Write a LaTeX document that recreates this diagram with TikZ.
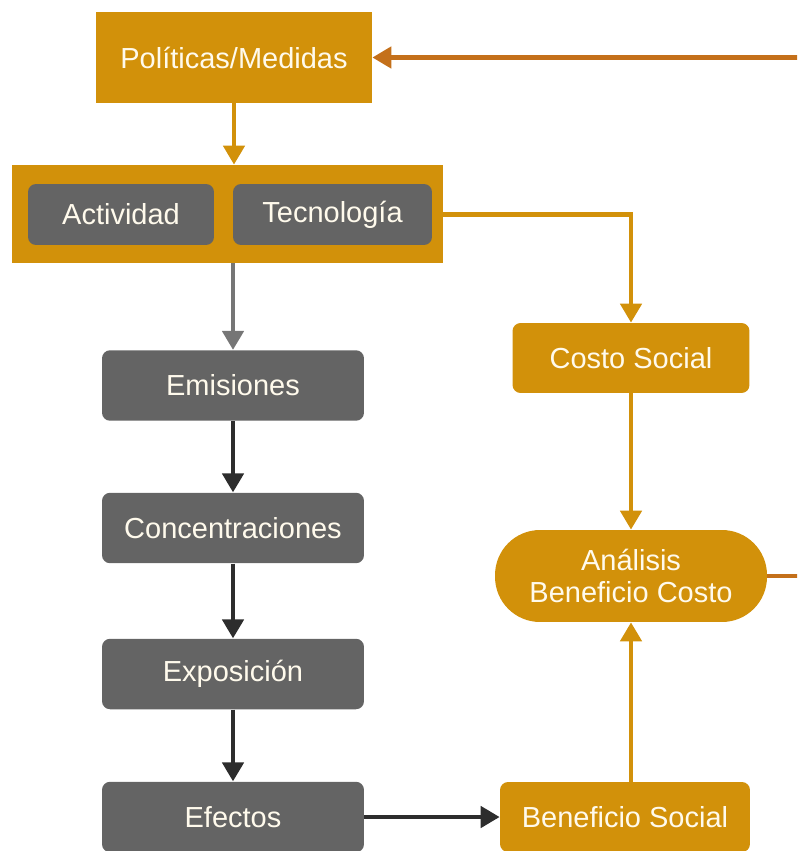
\documentclass[tikz,border=0pt]{standalone}
\usepackage{fontspec}
\setmainfont{Liberation Sans}
\usetikzlibrary{arrows.meta}
\definecolor{oro}{RGB}{210,145,10}
\definecolor{gris}{RGB}{100,100,100}
\definecolor{grisclaro}{RGB}{118,118,118}
\definecolor{oscuro}{RGB}{45,45,45}
\definecolor{naranja}{RGB}{196,112,26}
\definecolor{texto}{RGB}{255,250,236}

\begin{document}
\begin{tikzpicture}[x=0.02cm, y=-0.02cm,
    caja/.style={inner sep=0pt, text=texto, font=\fontsize{16.5}{18.7}\selectfont},
    cajaoro/.style={caja, fill=oro},
    cajagris/.style={caja, fill=gris, rounded corners=0.16cm, minimum width=5.24cm, minimum height=1.41cm},
    flecha/.style={line width=2.6pt, -{Triangle[length=0.38cm, width=0.42cm]}}]
    \useasboundingbox (0,0) rectangle (797,851);
    \clip (0,0) rectangle (797,851);

    % Políticas y el bloque Actividad/Tecnología
    \node[cajaoro, minimum width=5.52cm, minimum height=1.82cm] (Politicas) at (234,57.5) {Políticas/Medidas};
    \node[cajaoro, minimum width=8.62cm, minimum height=1.96cm] (Bloque) at (227.5,214) {};
    \node[cajagris, minimum width=3.72cm, minimum height=1.22cm] (Actividad) at (121,214.5) {Actividad};
    \node[cajagris, minimum width=3.98cm, minimum height=1.22cm] (Tecnologia) at (332.5,214.5) {Tecnología};

    % Cadena de impactos
    \node[cajagris] (Emisiones) at (233,385.5) {Emisiones};
    \node[cajagris] (Concentraciones) at (233,528) {Concentraciones};
    \node[cajagris] (Exposicion) at (233,674) {Exposición};
    \node[cajagris] (Efectos) at (233,817) {Efectos};

    % Costos y beneficios
    \node[cajaoro, rounded corners=0.16cm, minimum width=4.74cm, minimum height=1.4cm] (CostoSocial) at (631,358) {Costo Social};
    \node[cajaoro, rounded corners=0.9cm, minimum width=5.44cm, minimum height=1.84cm, align=center] (Analisis) at (631,576) {Análisis\\Beneficio Costo};
    \node[cajaoro, rounded corners=0.16cm, minimum width=5cm, minimum height=1.4cm] (BeneficioSocial) at (625,817) {Beneficio Social};

    % Flechas
    \draw[flecha, oro] (Politicas.south) -- (Politicas.south |- Bloque.north);
    \draw[flecha, grisclaro] (Emisiones.north |- Bloque.south) -- (Emisiones.north);
    \draw[flecha, oscuro] (Emisiones) -- (Concentraciones);
    \draw[flecha, oscuro] (Concentraciones) -- (Exposicion);
    \draw[flecha, oscuro] (Exposicion) -- (Efectos);
    \draw[flecha, oscuro] (Efectos) -- (BeneficioSocial);
    \draw[flecha, oro] (Tecnologia.east) -| (CostoSocial.north);
    \draw[flecha, oro] (CostoSocial) -- (Analisis);
    \draw[flecha, oro] (Analisis.south |- BeneficioSocial.north) -- (Analisis.south);

    % Retroalimentación
    \draw[flecha, naranja] (Analisis.east) -- ++(60,0) |- (Politicas.east);
\end{tikzpicture}
\end{document}
